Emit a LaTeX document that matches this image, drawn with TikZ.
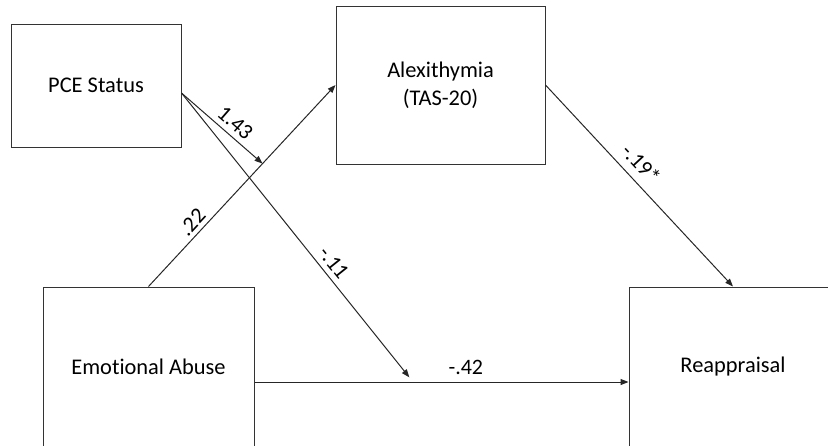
\documentclass[tikz,border=0pt]{standalone}
\usepackage{fontspec}
\setmainfont{Carlito}[Ligatures=NoCommon]
\usetikzlibrary{arrows.meta}

\begin{document}
\begin{tikzpicture}[x=0.5pt,y=-0.5pt,
    var/.style={draw=black!80,line width=0.5pt,rectangle,align=center,
                font=\fontsize{11.2pt}{14pt}\selectfont},
    link/.style={draw=black!85,line width=0.5pt,
                 -{Triangle[length=4pt,width=3pt]}},
    coef/.style={font=\fontsize{11pt}{12pt}\selectfont,
                 sloped,inner sep=1pt}]

  % ------- page -------
  \useasboundingbox (0,0) rectangle (828,445);
  \clip (0,0) rectangle (828,445);

  % ------- variables -------
  \node[var,minimum width=85pt,minimum height=61.5pt]  (pce)  at (96,85.5)  {PCE Status};
  \node[var,minimum width=104.5pt,minimum height=79pt] (alex) at (440.5,85) {Alexithymia\\(TAS-20)};
  \node[var,minimum width=105.5pt,minimum height=80pt] (ea)   at (148.5,367) {Emotional Abuse};
  \node[var,minimum width=104pt,minimum height=80pt]   (reap) at (733,367)  {Reappraisal};

  % ------- connector ends -------
  \coordinate (pceout) at ([yshift=-3.75pt]pce.east);
  \coordinate (eaout)  at ([yshift=-7.5pt]ea.east);
  \coordinate (reapin) at ([yshift=-7.5pt]reap.west);

  % ------- paths -------
  \draw[link] (ea.north) -- (alex.west)
        coordinate[pos=0.61] (modA)
        node[coef,pos=0.28,above=1pt] {.22};
  \draw[link] (eaout) -- (reapin)
        coordinate[pos=0.424] (modR)
        node[coef,pos=0.565,above=2.5pt] {-.42};
  \draw[link] (alex.east) -- (reap.north)
        node[coef,pos=0.447,above=3pt] {-.19*};

  % ------- moderation by PCE status -------
  \draw[link] (pceout) -- (modA)
        node[coef,pos=0.56,above=1.5pt] {1.43};
  \draw[link,shorten >=3pt] (pceout) -- (modR)
        node[coef,pos=0.615,above=1.5pt] {-.11};
\end{tikzpicture}
\end{document}
